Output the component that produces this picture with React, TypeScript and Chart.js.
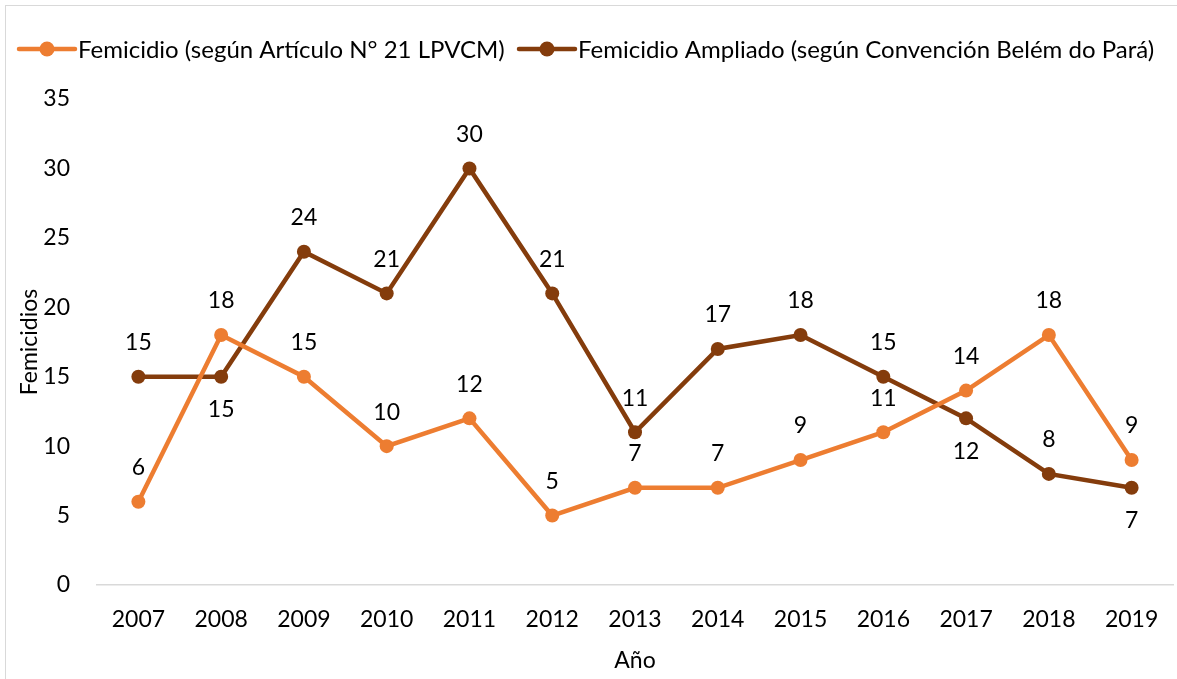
import React, { useEffect, useRef } from 'react';
import { Chart, registerables } from 'chart.js';

Chart.register(...registerables);

const years = ['2007', '2008', '2009', '2010', '2011', '2012', '2013', '2014', '2015', '2016', '2017', '2018', '2019'];
const femicidio = [6, 18, 15, 10, 12, 5, 7, 7, 9, 11, 14, 18, 9];
const ampliado = [15, 15, 24, 21, 30, 21, 11, 17, 18, 15, 12, 8, 7];
const seriesNames = [
  'Femicidio (según Artículo N° 21 LPVCM)',
  'Femicidio Ampliado (según Convención Belém do Pará)',
];
const yMin = 0;
const yMax = 35;
const yStep = 5;
const xTitle = 'Año';
const yTitle = 'Femicidios';
// indexes of points whose value label sits below the point
const femicidioLabelsBelow: number[] = [];
const ampliadoLabelsBelow = [1, 10, 12];

const ORANGE = '#ED7D31';
const BROWN = '#843C0C';
const FONT = 'Lato, "Open Sans", sans-serif';
const FS = 23;
const LEGEND_FS = 24;

const legendPlugin = {
  id: 'customLegend',
  afterDraw(chart: any) {
    const ctx = chart.ctx;
    ctx.save();
    ctx.font = `${LEGEND_FS}px ${FONT}`;
    ctx.textBaseline = 'middle';
    ctx.textAlign = 'left';
    const y = 49;
    const starts = [19, 519];
    chart.data.datasets.forEach((ds: any, i: number) => {
      const x = starts[i];
      const lineLen = 56;
      ctx.strokeStyle = ds.borderColor;
      ctx.lineWidth = 4.5;
      ctx.lineCap = 'round';
      ctx.beginPath();
      ctx.moveTo(x, y);
      ctx.lineTo(x + lineLen, y);
      ctx.stroke();
      ctx.fillStyle = ds.borderColor;
      ctx.beginPath();
      ctx.arc(x + lineLen / 2, y, 7.5, 0, Math.PI * 2);
      ctx.fill();
      ctx.fillStyle = '#000';
      ctx.fillText(ds.label, x + lineLen + 3, y + 1);
    });
    ctx.restore();
  },
};

const labelsPlugin = {
  id: 'valueLabels',
  afterDatasetsDraw(chart: any) {
    const ctx = chart.ctx;
    ctx.save();
    ctx.font = `${FS}px ${FONT}`;
    ctx.textBaseline = 'middle';
    ctx.textAlign = 'center';
    ctx.fillStyle = '#000';
    chart.data.datasets.forEach((ds: any, di: number) => {
      const meta = chart.getDatasetMeta(di);
      const below = di === 0 ? femicidioLabelsBelow : ampliadoLabelsBelow;
      meta.data.forEach((pt: any, i: number) => {
        const off = below.includes(i) ? 33 : -34;
        ctx.fillText(String(ds.data[i]), pt.x, pt.y + off);
      });
    });
    ctx.restore();
  },
};

export default function App() {
  const ref = useRef<HTMLCanvasElement>(null);
  useEffect(() => {
    if (!ref.current) return;
    const chart = new Chart(ref.current, {
      type: 'line',
      data: {
        labels: years,
        datasets: [
          {
            label: seriesNames[0],
            data: femicidio,
            borderColor: ORANGE,
            backgroundColor: ORANGE,
            borderWidth: 4.5,
            pointRadius: 7,
            pointBorderWidth: 0,
            pointBackgroundColor: ORANGE,
            tension: 0,
          },
          {
            label: seriesNames[1],
            data: ampliado,
            borderColor: BROWN,
            backgroundColor: BROWN,
            borderWidth: 4.5,
            pointRadius: 7,
            pointBorderWidth: 0,
            pointBackgroundColor: BROWN,
            tension: 0,
          },
        ],
      },
      options: {
        responsive: false,
        animation: false,
        layout: { padding: { top: 99, left: 14, right: 1, bottom: 0 } },
        plugins: {
          legend: { display: false },
          tooltip: { enabled: false },
        },
        scales: {
          x: {
            offset: true,
            grid: { display: false, drawTicks: false },
            border: { display: true, color: '#d9d9d9', width: 1.5 },
            ticks: { color: '#000', font: { family: FONT, size: FS }, padding: 21, maxRotation: 0 },
            title: { display: true, text: xTitle, color: '#000', font: { family: FONT, size: FS }, padding: { top: 0, bottom: 5 } },
            afterFit: (s: any) => { s.height = 94; },
          },
          y: {
            min: yMin,
            max: yMax,
            ticks: { stepSize: yStep, color: '#000', font: { family: FONT, size: FS }, padding: 27 },
            grid: { display: false, drawTicks: false },
            border: { display: false },
            title: { display: true, text: yTitle, color: '#000', font: { family: FONT, size: FS }, padding: { top: 2, bottom: 0 } },
            afterFit: (s: any) => { s.width = 83; },
          },
        },
      },
      plugins: [legendPlugin, labelsPlugin],
    });
    return () => chart.destroy();
  }, []);
  return (
    <div style={{ position: 'fixed', left: 0, top: 0, width: 1177, height: 679, overflow: 'hidden', background: '#fff' }}>
      <div style={{ position: 'absolute', left: 5, top: 5, width: 1200, height: 700, border: '1px solid #d9d9d9' }} />
      <canvas ref={ref} width={1180} height={679} style={{ position: 'absolute', left: 0, top: 0, display: 'block' }} />
    </div>
  );
}
